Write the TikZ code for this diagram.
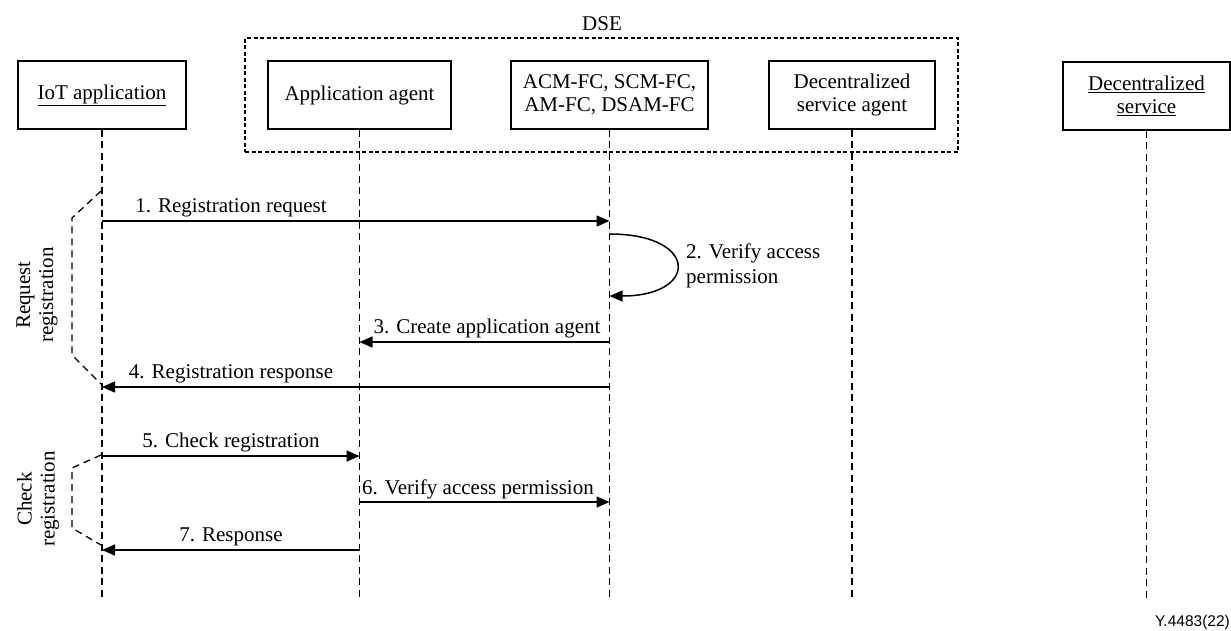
\documentclass[tikz,border=0pt]{standalone}
\usepackage{fontspec}
\setmainfont{Liberation Serif}
\newfontfamily\figsans{Liberation Sans}
\usetikzlibrary{arrows.meta}

\begin{document}
\begin{tikzpicture}[x=1pt,y=-1pt,
  every node/.style={font=\fontsize{21}{23}\selectfont},
  actor/.style={draw, line width=1.4pt, minimum height=68pt, inner sep=0pt, align=center},
  dsebox/.style={draw, line width=2.2pt, dash pattern=on 4pt off 2.5pt, inner sep=0pt},
  lifeline/.style={line width=1.5pt, dash pattern=on 7pt off 4.5pt},
  msg/.style={line width=1.5pt, -{Triangle[length=13pt,width=11pt]}},
  grp/.style={line width=1.3pt, dash pattern=on 7pt off 5pt},
  lbl/.style={anchor=base, inner sep=0pt},
  grplbl/.style={rotate=90, align=center, inner sep=0pt},
]
\useasboundingbox (0,0) rectangle (1231,630);

% DSE frame
\node[dsebox, minimum width=713pt, minimum height=114pt] (dse) at (601.5,95) {};
\node[lbl] (dselbl) at (602,30) {DSE};

% participants
\node[actor, minimum width=168pt] (iot) at (102,95) {\underline{IoT application}};
\node[actor, minimum width=183pt] (aa) at (359.5,95) {Application agent};
\node[actor, minimum width=197pt] (fc) at (609.5,95) {ACM-FC, SCM-FC,\\AM-FC, DSAM-FC};
\node[actor, minimum width=166pt] (dsa) at (852,95) {Decentralized\\service agent};
\node[actor, minimum width=167pt] (ds) at (1146.5,96) {\underline{Decentralized}\\\underline{service}};

% lifelines
\coordinate (bottom) at (0,598);
\foreach \p in {iot,aa,fc,dsa,ds}
  \draw[lifeline] (\p.south) -- (\p.south |- bottom);

% message end points
\coordinate (m1a) at (iot.south |- 0,221);
\coordinate (m1b) at (fc.south |- 0,221);
\coordinate (m2a) at (fc.south |- 0,234);
\coordinate (m2b) at (fc.south |- 0,296);
\coordinate (m3a) at (fc.south |- 0,342);
\coordinate (m3b) at (aa.south |- 0,342);
\coordinate (m4a) at (fc.south |- 0,387);
\coordinate (m4b) at (iot.south |- 0,387);
\coordinate (m5a) at (iot.south |- 0,456);
\coordinate (m5b) at (aa.south |- 0,456);
\coordinate (m6a) at (aa.south |- 0,502);
\coordinate (m6b) at (fc.south |- 0,502);
\coordinate (m7a) at (aa.south |- 0,550);
\coordinate (m7b) at (iot.south |- 0,550);

% messages
\draw[msg] (m1a) -- (m1b);
\node[lbl] (l1) at (231,212) {1. Registration request};

\draw[msg] (m2a) .. controls (699,234) and (699,296) .. (m2b);
\node[anchor=west, align=left, inner sep=0pt, font=\fontsize{21}{24.5}\selectfont] (l2) at (686,266) {2. Verify access\\permission};

\draw[msg] (m3a) -- (m3b);
\node[lbl] (l3) at (487,333) {3. Create application agent};

\draw[msg] (m4a) -- (m4b);
\node[lbl] (l4) at (231,378) {4. Registration response};

\draw[msg] (m5a) -- (m5b);
\node[lbl] (l5) at (231,447) {5. Check registration};

\draw[msg] (m6a) -- (m6b);
\node[lbl] (l6) at (478,494) {6. Verify access permission};

\draw[msg] (m7a) -- (m7b);
\node[lbl] (l7) at (231,541) {7. Response};

% phase brackets
\coordinate (g1a) at (101,191);
\coordinate (g1b) at (101,384);
\draw[grp] (g1a) -- (72,218) -- (72,355) -- (g1b);
\node[grplbl] (g1) at (37,295) {Request\\registration};

\coordinate (g2a) at (101,455);
\coordinate (g2b) at (101,545);
\draw[grp] (g2a) -- (72,468) -- (72,528) -- (g2b);
\node[grplbl] (g2) at (38,499) {Check\\registration};

% figure reference
\node[anchor=base east, inner sep=0pt, font=\figsans\fontsize{15.5}{18}\selectfont] (ref) at (1230,626) {Y.4483(22)};
\end{tikzpicture}
\end{document}
